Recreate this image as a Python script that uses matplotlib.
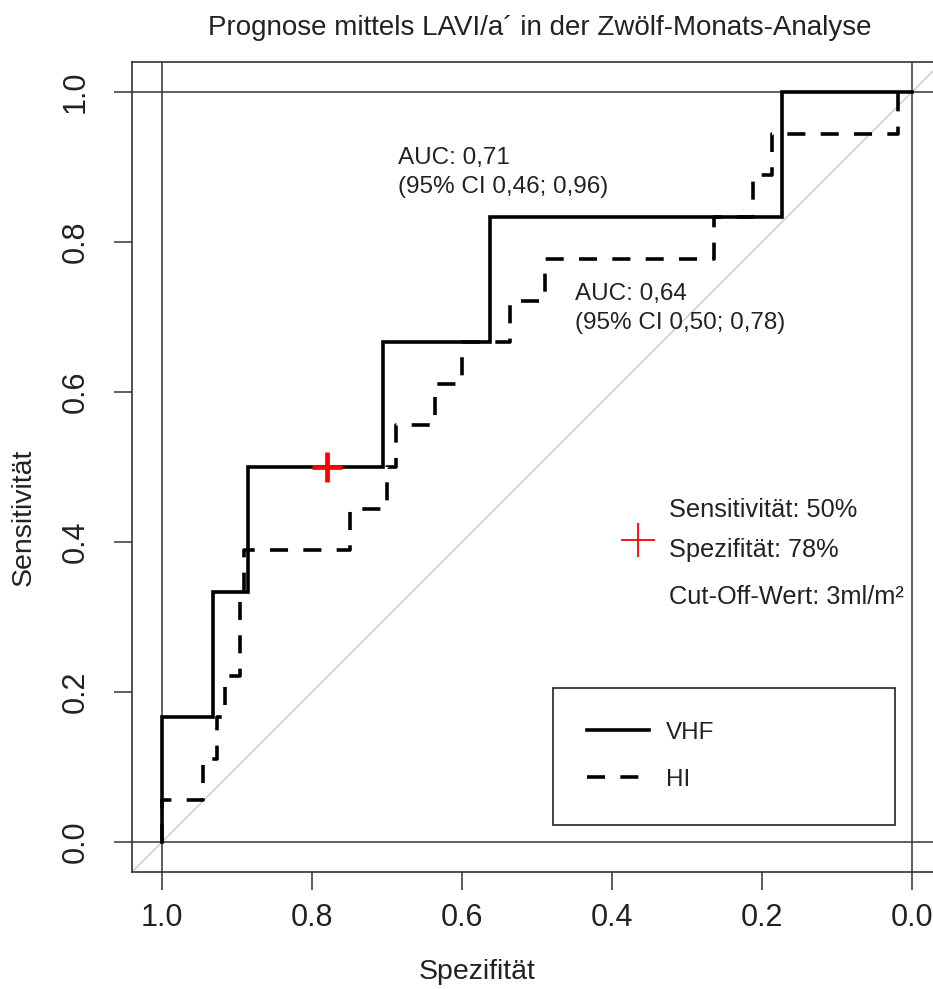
import matplotlib
matplotlib.use("Agg")
import matplotlib.pyplot as plt
from matplotlib.lines import Line2D

plt.rcParams['font.family'] = ['Liberation Sans', 'DejaVu Sans']
plt.rcParams['lines.scale_dashes'] = False

# ROC-Kurven (Spezifitaet, Sensitivitaet), Eckpunkte fuer steps-pre
vhf_spec = [1.0, 0.932, 0.885, 0.705, 0.563, 0.173, 0.0]
vhf_sens = [0.0, 0.167, 0.333, 0.5, 0.667, 0.833, 1.0]

hi_spec = [1.0, 0.945, 0.927, 0.916, 0.896, 0.891, 0.749, 0.700, 0.688,
           0.636, 0.600, 0.536, 0.489, 0.264, 0.212, 0.187, 0.019, 0.0]
hi_sens = [0.0, 0.056, 0.111, 0.167, 0.222, 0.333, 0.389, 0.444, 0.5,
           0.556, 0.611, 0.667, 0.722, 0.778, 0.833, 0.889, 0.944, 1.0]

# bester Cut-Off (VHF)
cut_spec = 0.78
cut_sens = 0.50

ticks = [1.0, 0.8, 0.6, 0.4, 0.2, 0.0]
tick_labels = ["1.0", "0.8", "0.6", "0.4", "0.2", "0.0"]

fig = plt.figure(figsize=(9.33, 9.89), dpi=100)
ax = fig.add_axes([132/933, 117/989, 810/933, 810/989])
ax.set_xlim(1.04, -0.04)
ax.set_ylim(-0.04, 1.04)

dark = "#333333"
for s in ax.spines.values():
    s.set_color(dark)
    s.set_linewidth(1.2)

# Rahmenlinien bei 0 und 1
for v in (0.0, 1.0):
    ax.axvline(v, color=dark, lw=1.1, zorder=1)
    ax.axhline(v, color=dark, lw=1.1, zorder=1)
# Diagonale
ax.plot([1.04, -0.04], [-0.04, 1.04], color="#c8c8c8", lw=1.0, zorder=1)

ax.plot(vhf_spec, vhf_sens, drawstyle="steps-pre", color="black", lw=2.6,
        solid_joinstyle="miter", zorder=3)
ax.plot(hi_spec, hi_sens, drawstyle="steps-pre", color="black", lw=2.6,
        dashes=(13, 11), zorder=3)

ax.plot(cut_spec, cut_sens, marker="+", color="red", ms=22, mew=3.4, zorder=4)

ax.set_xticks(ticks)
ax.set_xticklabels(tick_labels)
ax.set_yticks(ticks)
ax.set_yticklabels(tick_labels, rotation=90, va="center")
ax.tick_params(axis="both", length=13, width=1.1, color=dark, labelsize=22,
               labelcolor="#222222")
ax.tick_params(axis="x", pad=9)
ax.tick_params(axis="y", pad=17)

txt = "#222222"
ax.text(0.685, 0.893, "AUC: 0,71\n(95% CI 0,46; 0,96)", fontsize=17.5,
        color=txt, va="center", ha="left", linespacing=1.4)
ax.text(0.449, 0.711, "AUC: 0,64\n(95% CI 0,50; 0,78)", fontsize=17.5,
        color=txt, va="center", ha="left", linespacing=1.4)

ax.plot(0.366, 0.403, marker="+", color="red", ms=24, mew=1.3)
fs_cut = 18.3
ax.text(0.324, 0.443, "Sensitivität: 50%", fontsize=fs_cut, color=txt, va="center")
ax.text(0.324, 0.389, "Spezifität: 78%", fontsize=fs_cut, color=txt, va="center")
ax.text(0.324, 0.327, "Cut-Off-Wert: 3ml/m²", fontsize=fs_cut, color=txt, va="center")

handles = [Line2D([], [], color="black", lw=2.6),
           Line2D([], [], color="black", lw=2.6, dashes=(13, 11))]
leg = ax.legend(handles, ["VHF", "HI"], loc="center",
                bbox_to_anchor=(0.52, 0.058, 0.422, 0.17), mode="expand",
                fontsize=17.5, handlelength=2.55, handletextpad=0.7,
                labelspacing=1.03, borderpad=1.4, borderaxespad=0,
                fancybox=False, framealpha=1, edgecolor="#222222")
leg.get_frame().set_linewidth(1.2)
for t in leg.get_texts():
    t.set_color(txt)

fig.text(540/933, 1 - 28/989, "Prognose mittels LAVI/a´ in der Zwölf-Monats-Analyse",
         ha="center", va="center", fontsize=20, color=txt)
fig.text(477/933, 1 - 972/989, "Spezifität", ha="center", va="center",
         fontsize=20.5, color=txt)
fig.text(24/933, 1 - 517/989, "Sensitivität", ha="center", va="center",
         fontsize=20.5, rotation=90, color=txt)

fig.savefig("out.png", dpi=100)
